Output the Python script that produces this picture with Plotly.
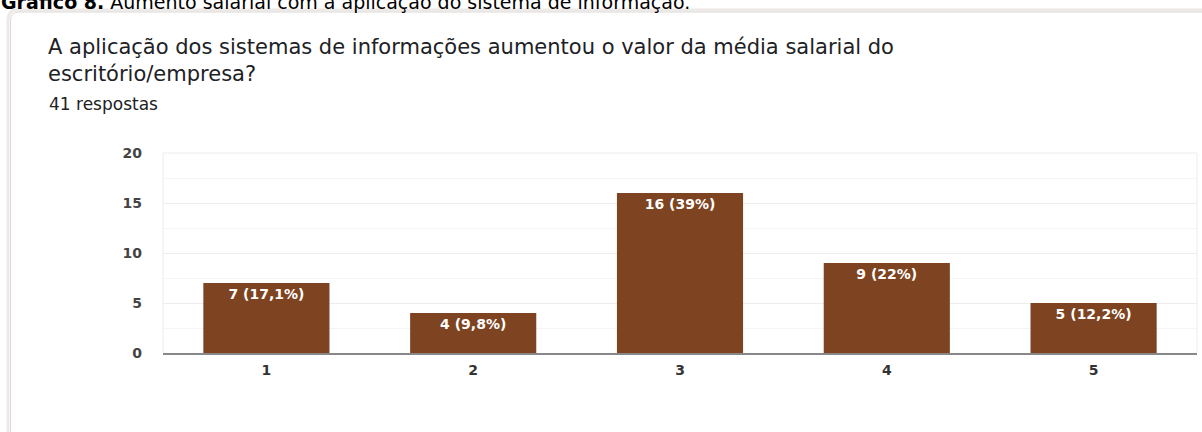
import plotly.graph_objects as go

categories = ["1", "2", "3", "4", "5"]
counts = [7, 4, 16, 9, 5]
pct_labels = ["17,1%", "9,8%", "39%", "22%", "12,2%"]
y_ticks = [0, 5, 10, 15, 20]

W, H = 1202, 432
L, R, T, B = 163, 5, 153, 79
PW = W - L - R
PH = H - T - B

def px(x):
    return (x - L) / PW

def py(y):
    return (H - B - y) / PH

labels = [f"{c} ({p})" for c, p in zip(counts, pct_labels)]

wide = "DejaVu Sans, Verdana, sans-serif"

fig = go.Figure(go.Bar(
    x=categories, y=counts, text=labels,
    textposition="inside", insidetextanchor="end",
    textfont=dict(family=wide, size=14, color="white", weight="bold"),
    marker=dict(color="#7E4320", line=dict(width=0)),
    width=0.61, cliponaxis=False,
))

# card shapes
x0, y0 = px(10.5), py(12)
x1, y1 = px(1250), py(500)
rx, ry = 9 / PW, 9 / PH
card = (f"M {x0} {y1} L {x0} {y0 - ry} Q {x0} {y0} {x0 + rx} {y0} "
        f"L {x1} {y0}")
sx0 = px(8)
shadow = (f"M {sx0} {y1} L {sx0} {y0 - ry} Q {sx0} {py(10)} {sx0 + rx} {py(10)} "
          f"L {x1} {py(10)}")
fig.update_layout(shapes=[
    dict(type="path", path=shadow, xref="paper", yref="paper",
         line=dict(color="#ece9e6", width=3), layer="below"),
    dict(type="path", path=card, xref="paper", yref="paper",
         line=dict(color="#dcdad8", width=1), layer="below"),
])

annotations = [
    dict(x=px(-1), y=py(2), xanchor="left", yanchor="middle",
         text="<b>Gráfico 8.</b> Aumento salarial com a aplicação do sistema de informação.",
         font=dict(family=wide, size=19, color="#000000")),
    dict(x=px(46), y=py(47), xanchor="left", yanchor="middle",
         text="A aplicação dos sistemas de informações aumentou o valor da média salarial do",
         font=dict(family=wide, size=21, color="#202124")),
    dict(x=px(46), y=py(74), xanchor="left", yanchor="middle",
         text="escritório/empresa?",
         font=dict(family=wide, size=21, color="#202124")),
    dict(x=px(47), y=py(104), xanchor="left", yanchor="middle",
         text="41 respostas",
         font=dict(family=wide, size=17, color="#202124")),
]
for a in annotations:
    a.update(xref="paper", yref="paper", showarrow=False)

fig.update_layout(
    width=W, height=H,
    margin=dict(l=L, r=R, t=T, b=B),
    paper_bgcolor="white", plot_bgcolor="white",
    showlegend=False,
    annotations=annotations,
    bargap=0.39,
)
fig.update_yaxes(
    range=[0, 20], tickvals=y_ticks, ticktext=[str(v) for v in y_ticks],
    showgrid=True, gridcolor="#ececec", gridwidth=1,
    minor=dict(tickvals=[2.5, 7.5, 12.5, 17.5], showgrid=True, gridcolor="#f4f4f4"),
    zeroline=False, showline=False, ticks="",
    tickfont=dict(family=wide, size=14, color="#444444", weight="bold"),
    ticklabelstandoff=20,
    fixedrange=True,
)
fig.update_xaxes(
    showgrid=False, showline=True, linecolor="#888888", linewidth=2,
    ticks="", tickfont=dict(family=wide, size=14, color="#333333", weight="bold"),
    ticklabelstandoff=3,
    fixedrange=True,
)
fig.add_shape(type="line", xref="paper", yref="paper", x0=1, x1=1, y0=0, y1=1,
              line=dict(color="#ececec", width=1))
fig.add_shape(type="line", xref="paper", yref="paper", x0=0, x1=0, y0=0, y1=1,
              line=dict(color="#ececec", width=1))
fig.add_shape(type="line", xref="paper", yref="paper", x0=0, x1=1, y0=1, y1=1,
              line=dict(color="#ececec", width=1))

fig.write_html("out.html", config={"displayModeBar": False},
               post_script="document.body.style.margin='0';document.body.style.overflow='hidden';")
